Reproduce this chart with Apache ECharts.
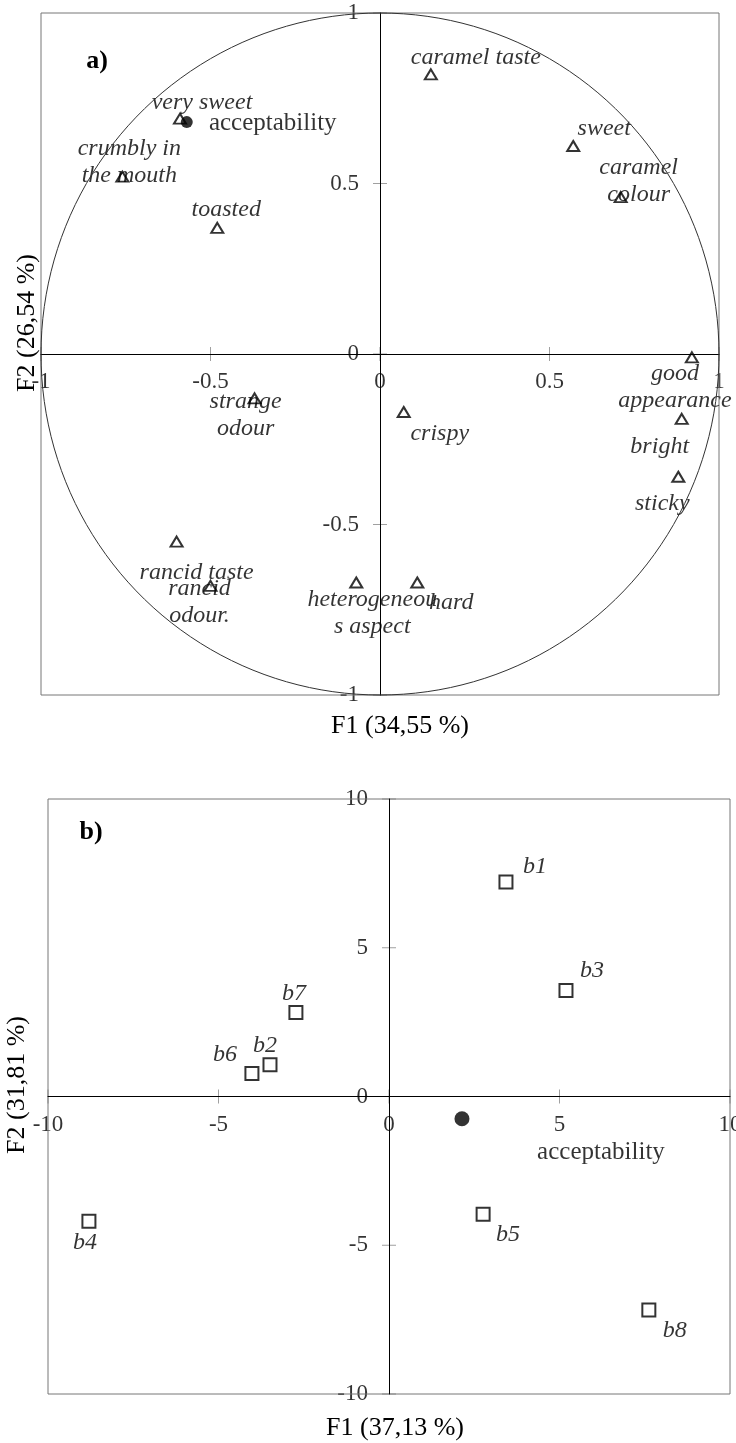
<!DOCTYPE html>
<html>
<head>
<meta charset="utf-8">
<script src="https://cdn.jsdelivr.net/npm/echarts@6/dist/echarts.min.js"></script>
<style>
html, body { margin: 0; padding: 0; background: #fff; }
#chart { width: 736px; height: 1443px; }
</style>
</head>
<body>
<div id="chart"></div>
<script>
// a) sensory attributes on the correlation circle
var attrNames = ['very sweet', 'crumbly in\nthe mouth', 'toasted', 'caramel taste', 'sweet', 'caramel\ncolour',
  'good\nappearance', 'bright', 'sticky', 'crispy', 'strange\nodour', 'rancid taste', 'rancid\nodour.',
  'heterogeneou\ns aspect', 'hard'];
var attrF1 = [-0.59, -0.76, -0.48, 0.15, 0.57, 0.71, 0.92, 0.89, 0.88, 0.07, -0.37, -0.60, -0.50, -0.07, 0.11];
var attrF2 = [0.69, 0.52, 0.37, 0.82, 0.61, 0.46, -0.01, -0.19, -0.36, -0.17, -0.13, -0.55, -0.68, -0.67, -0.67];
var accA = [-0.57, 0.68];
var ticksA = [-1, -0.5, 0, 0.5, 1];

// b) products
var prodNames = ['b1', 'b2', 'b3', 'b4', 'b5', 'b6', 'b7', 'b8'];
var prodF1 = [3.43, -3.49, 5.19, -8.80, 2.76, -4.02, -2.73, 7.62];
var prodF2 = [7.21, 1.07, 3.56, -4.19, -3.96, 0.77, 2.82, -7.18];
var accB = [2.14, -0.75];
var ticksB = [-10, -5, 0, 5, 10];

// label placement (pixels, relative to the marker)
var attrLabelOffset = [[22, -16], [7, -14], [9, -18], [45, -17], [31, -17], [18, -16], [-17, 30], [-22, 28],
  [-16, 27], [36, 22], [-9, 17], [20, 31], [-11, 16], [16, 31], [34, 20]];
var prodLabelOffset = [[29, -15], [-5, -19], [26, -20], [-4, 22], [25, 20], [-27, -19], [-2, -19], [26, 21]];

var FONT = 'Liberation Serif';

// unit circle (reference for correlations)
var circle = [];
for (var k = 0; k <= 360; k += 2) {
  circle.push([Math.cos(k * Math.PI / 180), Math.sin(k * Math.PI / 180)]);
}

function axis(gridIndex, ticks) {
  return {
    type: 'value', gridIndex: gridIndex,
    min: ticks[0], max: ticks[ticks.length - 1], interval: ticks[1] - ticks[0],
    splitLine: { show: false },
    axisLine: { show: true, onZero: true, lineStyle: { color: '#000', width: 1 } },
    axisTick: { show: false },
    axisLabel: { show: false }
  };
}

// ticks crossing the axis lines, with their labels, placed through the axes
function tickSeries(idx, ticks, dim, dist) {
  var isX = dim === 'x';
  return {
    type: 'scatter', xAxisIndex: idx, yAxisIndex: idx, z: -1, clip: false, silent: true,
    symbol: 'rect', symbolSize: isX ? [1, 14] : [14, 1],
    itemStyle: { color: '#888' },
    label: {
      show: true, position: isX ? 'bottom' : 'left', distance: dist,
      color: '#000', fontFamily: FONT, fontSize: 23,
      formatter: function (p) { return String(isX ? p.value[0] : p.value[1]); }
    },
    data: ticks.map(function (t) { return isX ? [t, 0] : [0, t]; })
  };
}

function points(names, xs, ys, offsets) {
  return names.map(function (n, i) {
    return { name: n, value: [xs[i], ys[i]], label: { offset: offsets[i] } };
  });
}

var italicLabel = {
  show: true, position: 'inside', formatter: '{b}', color: '#000',
  fontFamily: FONT, fontStyle: 'italic', fontSize: 24, lineHeight: 27, align: 'center', verticalAlign: 'middle'
};

var chart = echarts.init(document.getElementById('chart'));
chart.setOption({
  animation: false,
  backgroundColor: '#fff',
  grid: [
    { left: 41, top: 13, width: 678, height: 682, outerBoundsMode: 'none', show: true, borderColor: '#777', borderWidth: 1, backgroundColor: 'transparent' },
    { left: 48, top: 799, width: 682, height: 595, outerBoundsMode: 'none', show: true, borderColor: '#777', borderWidth: 1, backgroundColor: 'transparent' }
  ],
  xAxis: [axis(0, ticksA), axis(1, ticksB)],
  yAxis: [axis(0, ticksA), axis(1, ticksB)],
  graphic: [
    { type: 'text', x: 97, y: 61, style: { text: 'a)', font: 'bold 26px "Liberation Serif"', fill: '#000', align: 'center', verticalAlign: 'middle' } },
    { type: 'text', x: 91, y: 832, style: { text: 'b)', font: 'bold 26px "Liberation Serif"', fill: '#000', align: 'center', verticalAlign: 'middle' } },
    { type: 'text', x: 400, y: 726, style: { text: 'F1 (34,55 %)', font: '26px "Liberation Serif"', fill: '#000', align: 'center', verticalAlign: 'middle' } },
    { type: 'text', x: 27, y: 323, rotation: Math.PI / 2, style: { text: 'F2 (26,54 %)', font: '26px "Liberation Serif"', fill: '#000', align: 'center', verticalAlign: 'middle' } },
    { type: 'text', x: 395, y: 1428, style: { text: 'F1 (37,13 %)', font: '26px "Liberation Serif"', fill: '#000', align: 'center', verticalAlign: 'middle' } },
    { type: 'text', x: 17, y: 1085, rotation: Math.PI / 2, style: { text: 'F2 (31,81 %)', font: '26px "Liberation Serif"', fill: '#000', align: 'center', verticalAlign: 'middle' } }
  ],
  series: [
    tickSeries(0, ticksA, 'x', 9),
    tickSeries(0, ticksA, 'y', 14),
    tickSeries(1, ticksB, 'x', 10),
    tickSeries(1, ticksB, 'y', 14),
    {
      type: 'line', xAxisIndex: 0, yAxisIndex: 0, data: circle, showSymbol: false, symbol: 'none',
      lineStyle: { color: '#333', width: 1 }, silent: true, clip: false
    },
    {
      type: 'scatter', xAxisIndex: 0, yAxisIndex: 0, symbol: 'triangle', symbolSize: [12, 10],
      itemStyle: { color: 'rgba(0,0,0,0)', borderColor: '#000', borderWidth: 2 },
      label: italicLabel,
      data: points(attrNames, attrF1, attrF2, attrLabelOffset)
    },
    {
      type: 'scatter', xAxisIndex: 0, yAxisIndex: 0, symbol: 'circle', symbolSize: 12,
      itemStyle: { color: '#000' },
      label: { show: true, position: 'inside', offset: [86, 1], formatter: 'acceptability', color: '#000', fontFamily: FONT, fontSize: 25 },
      data: [accA]
    },
    {
      type: 'scatter', xAxisIndex: 1, yAxisIndex: 1, symbol: 'rect', symbolSize: 13,
      itemStyle: { color: 'rgba(0,0,0,0)', borderColor: '#000', borderWidth: 2 },
      label: italicLabel,
      data: points(prodNames, prodF1, prodF2, prodLabelOffset)
    },
    {
      type: 'scatter', xAxisIndex: 1, yAxisIndex: 1, symbol: 'circle', symbolSize: 15,
      itemStyle: { color: '#000' },
      label: { show: true, position: 'inside', offset: [139, 34], formatter: 'acceptability', color: '#000', fontFamily: FONT, fontSize: 25 },
      data: [accB]
    }
  ]
});
</script>
</body>
</html>
